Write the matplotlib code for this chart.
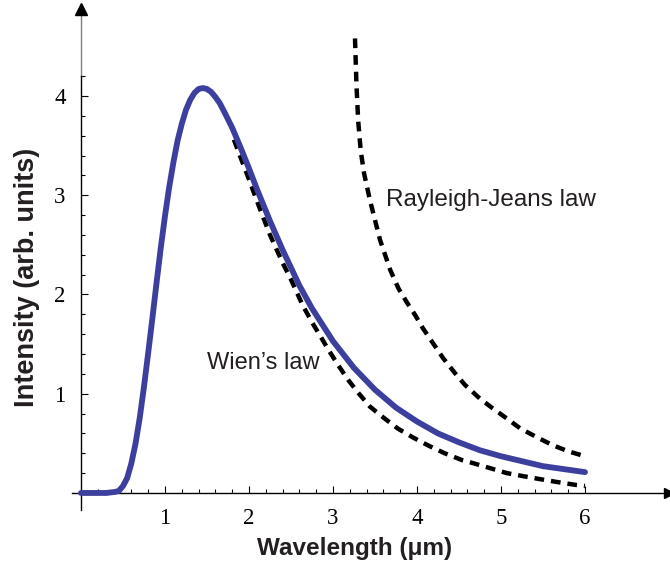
import matplotlib
matplotlib.use("Agg")
import matplotlib.pyplot as plt
from matplotlib.ticker import FixedLocator

plt.rcParams["lines.scale_dashes"] = False

BLUE = "#3c3f9d"
TEXT = "#231f20"

# Planck curve (solid blue)
planck_x = [0.0, 0.3, 0.4, 0.45, 0.5, 0.55, 0.6, 0.65, 0.7, 0.75, 0.8, 0.85,
            0.9, 0.95, 1.0, 1.05, 1.1, 1.15, 1.2, 1.25, 1.3, 1.35, 1.4, 1.45,
            1.5, 1.55, 1.6, 1.65, 1.7, 1.8, 1.9, 2.0, 2.1, 2.25, 2.4, 2.5,
            2.6, 2.75, 3.0, 3.25, 3.5, 3.75, 4.0, 4.25, 4.5, 4.75, 5.0, 5.25,
            5.5, 5.75, 6.0]
planck_y = [0.0, 0.0, 0.01, 0.02, 0.07, 0.15, 0.30, 0.50, 0.76, 1.07, 1.41,
            1.76, 2.12, 2.47, 2.79, 3.08, 3.33, 3.55, 3.72, 3.86, 3.96, 4.03,
            4.07, 4.08, 4.07, 4.04, 3.99, 3.93, 3.85, 3.68, 3.48, 3.27, 3.05,
            2.74, 2.45, 2.27, 2.09, 1.86, 1.53, 1.26, 1.04, 0.86, 0.72, 0.60,
            0.51, 0.43, 0.37, 0.32, 0.27, 0.24, 0.21]

# Wien's law (lower dashed)
wien_x = [1.82, 1.9, 2.0, 2.1, 2.25, 2.4, 2.5, 2.64, 2.75, 2.85, 2.94, 3.06,
          3.18, 3.3, 3.44, 3.6, 3.77, 3.95, 4.13, 4.33, 4.54, 4.67, 4.87,
          5.07, 5.26, 5.46, 5.67, 5.9, 6.0]
wien_y = [3.56, 3.38, 3.16, 2.93, 2.60, 2.32, 2.15, 1.89, 1.72, 1.58, 1.45,
          1.29, 1.14, 1.01, 0.87, 0.76, 0.65, 0.56, 0.48, 0.40, 0.33, 0.30,
          0.25, 0.20, 0.17, 0.14, 0.11, 0.08, 0.07]

# Rayleigh-Jeans law (upper dashed)
rj_x = [3.262, 3.28, 3.30, 3.33, 3.37, 3.44, 3.50, 3.56, 3.68, 3.78, 3.88,
        3.98, 4.07, 4.19, 4.31, 4.45, 4.57, 4.75, 4.89, 5.07, 5.23, 5.43,
        5.62, 5.80, 6.0]
rj_y = [4.58, 4.10, 3.75, 3.45, 3.22, 2.95, 2.75, 2.55, 2.25, 2.06, 1.92,
        1.79, 1.66, 1.51, 1.36, 1.21, 1.09, 0.95, 0.86, 0.75, 0.65, 0.56,
        0.48, 0.42, 0.37]

x_major = [1, 2, 3, 4, 5, 6]
y_major = [1, 2, 3, 4]

fig = plt.figure(figsize=(6.7, 5.68), dpi=100)
ax = fig.add_axes([0, 0, 1, 1])
ax.set_xlim(-0.964, 7.012)
ax.set_ylim(-0.756, 4.967)
ax.patch.set_visible(False)

# axes through the origin
for side in ["top", "right"]:
    ax.spines[side].set_visible(False)
ax.spines["bottom"].set_position(("data", 0))
ax.spines["left"].set_position(("data", 0))
ax.spines["bottom"].set_bounds(-0.107, 6.98)
ax.spines["left"].set_bounds(-0.17, 4.2)
for side in ["bottom", "left"]:
    ax.spines[side].set_linewidth(1.0)
ax.plot([0, 0], [4.2, 4.86], color="#808080", lw=1.0, clip_on=False)
ax.plot([7.0], [0], marker=">", ms=7, color="black", clip_on=False)
ax.plot([0], [4.88], marker="^", ms=8, color="black", clip_on=False)

ax.xaxis.set_major_locator(FixedLocator(x_major))
ax.xaxis.set_minor_locator(FixedLocator([i * 0.2 for i in range(1, 30) if i % 5]))
ax.yaxis.set_major_locator(FixedLocator(y_major))
ax.yaxis.set_minor_locator(FixedLocator([i * 0.2 for i in range(1, 22) if i % 5]))
ax.tick_params(which="both", direction="in", width=0.8, color="black")
ax.tick_params(which="major", length=5)
ax.tick_params(which="minor", length=3)
ax.tick_params(axis="x", which="major", pad=11)
ax.tick_params(axis="y", which="major", pad=11)
for lab in ax.get_xticklabels() + ax.get_yticklabels():
    lab.set_fontfamily("Liberation Serif")
    lab.set_fontsize(16.5)

# curves
dash = (0, (7, 5))
ax.plot(wien_x, wien_y, color="black", lw=3.2, linestyle=dash, zorder=3)
ax.plot(rj_x, rj_y, color="black", lw=3.2, linestyle=dash, zorder=3)
ax.plot(planck_x, planck_y, color=BLUE, lw=4.2, solid_capstyle="round",
        solid_joinstyle="round", zorder=4, clip_on=False)

# labels
ax.text(2.17, 1.31, "Wien\u2019s law", fontsize=17, family="Liberation Sans",
        color=TEXT, ha="center", va="center")
ax.text(4.875, 2.95, "Rayleigh-Jeans law", fontsize=17.5, family="Liberation Sans",
        color=TEXT, ha="center", va="center")
ax.text(3.26, -0.56, "Wavelength (\u03bcm)", fontsize=17.5, family="Liberation Sans",
        weight="bold", color=TEXT, ha="center", va="center")
ax.text(-0.645, 2.17, "Intensity (arb. units)", fontsize=19.5,
        family="Liberation Sans", weight="bold", color=TEXT,
        ha="center", va="center", rotation=90)

fig.savefig("out.png", dpi=100)
